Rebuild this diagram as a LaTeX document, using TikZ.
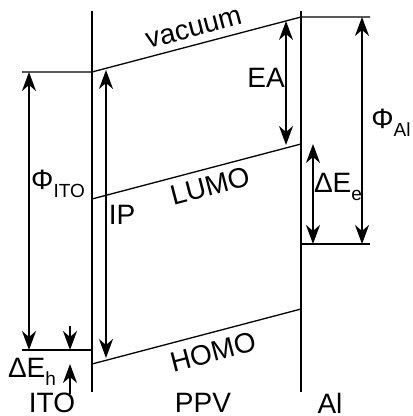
\documentclass[tikz,border=0pt]{standalone}
\usepackage{fontspec}
\setmainfont{Liberation Sans}
\usetikzlibrary{arrows.meta}

\newcommand{\lowsub}[1]{\raisebox{-0.5ex}{\fontsize{9.5}{10}\selectfont #1}}

\begin{document}
\begin{tikzpicture}[x=0.5pt,y=-0.5pt,
		>={Stealth[length=9.5pt,width=7pt,inset=3pt]},
		every path/.style={line width=0.65pt},
		lbl/.style={inner sep=0pt,font=\fontsize{14}{16}\selectfont}]
		
		\useasboundingbox (0,0) rectangle (412,416);
		
		% interfaces
		\coordinate (IfLtop) at (92,11);
		\coordinate (IfLbot) at (92,392);
		\coordinate (IfRtop) at (301,11);
		\coordinate (IfRbot) at (301,392);
		
		% levels
		\coordinate (ItoVacL) at (22,72);
		\coordinate (ItoVac) at (92,72);
		\coordinate (ItoFL) at (22,350);
		\coordinate (ItoF) at (92,350);
		\coordinate (PpvVac) at (301,17);
		\coordinate (AlVacR) at (370,17);
		\coordinate (LumoL) at (92,199);
		\coordinate (LumoR) at (301,144);
		\coordinate (HomoL) at (92,364);
		\coordinate (HomoR) at (301,309);
		\coordinate (AlF) at (301,244);
		\coordinate (AlFR) at (370,244);
		
		\draw (IfLtop)--(IfLbot);
		\draw (IfRtop)--(IfRbot);
		\draw (ItoVacL)--(ItoVac)--(PpvVac)--(AlVacR);
		\draw (ItoFL)--(ItoF);
		\draw (LumoL)--(LumoR);
		\draw (HomoL)--(HomoR);
		\draw (AlF)--(AlFR);
		
		% arrows
		\coordinate (PhiItoA) at (29,72);
		\coordinate (PhiItoB) at (29,350);
		\coordinate (DhA) at (70,326);
		\coordinate (DhB) at (70,350);
		\coordinate (DhC) at (70,394);
		\coordinate (DhD) at (70,364);
		\coordinate (IpA) at (106,70);
		\coordinate (IpB) at (106,358);
		\coordinate (EaA) at (286,21);
		\coordinate (EaB) at (286,145);
		\coordinate (DeA) at (313,144);
		\coordinate (DeB) at (313,244);
		\coordinate (PhiAlA) at (362,17);
		\coordinate (PhiAlB) at (362,244);
		
		\draw[<->] (PhiItoA)--(PhiItoB);
		\draw[->] (DhA)--(DhB);
		\draw[->] (DhC)--(DhD);
		\draw[<->] (IpA)--(IpB);
		\draw[<->] (EaA)--(EaB);
		\draw[<->] (DeA)--(DeB);
		\draw[<->] (PhiAlA)--(PhiAlB);
		
		% labels
		\node[lbl,rotate=14.7] (vac) at (194,29) {vacuum};
		\node[lbl,rotate=14.7] (lumo) at (210,186) {LUMO};
		\node[lbl,rotate=14.7] (homo) at (213,352) {HOMO};
		\node[lbl] (ea) at (266,78) {EA};
		\node[lbl] (ip) at (122,215) {IP};
		\node[lbl] (phiito) at (58,184) {Φ\lowsub{ITO}};
		\node[lbl] (phial) at (391,123) {Φ\lowsub{Al}};
		\node[lbl] (dee) at (338,187) {ΔE\lowsub{e}};
		\node[lbl] (deh) at (32,372) {ΔE\lowsub{h}};
		\node[lbl] (ito) at (52,403) {ITO};
		\node[lbl] (ppv) at (203,403) {PPV};
		\node[lbl] (al) at (330,403) {Al};
		
	\end{tikzpicture}
\end{document}
